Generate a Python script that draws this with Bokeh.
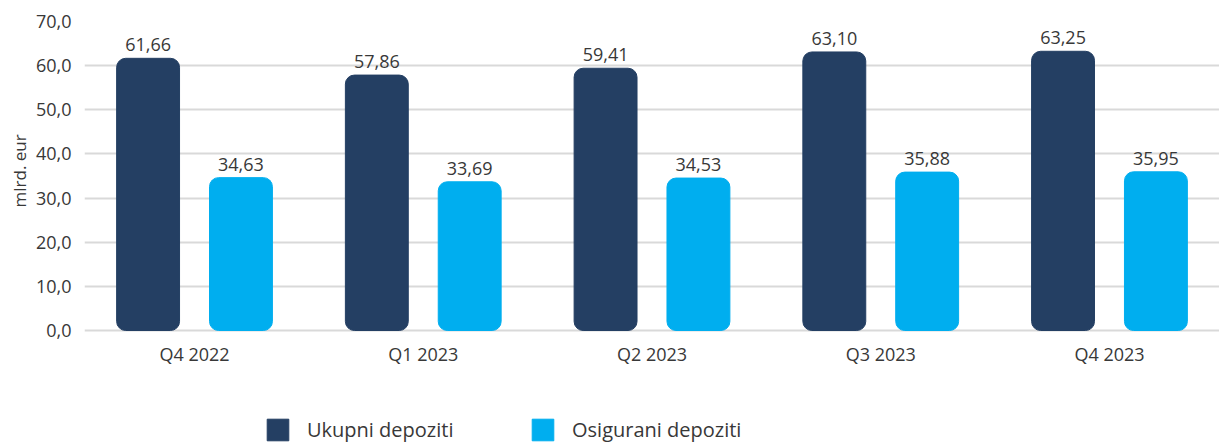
from bokeh.plotting import figure
from bokeh.models import (ColumnDataSource, FactorRange, Range1d, CustomJSTickFormatter,
                          Legend, LegendItem, LabelSet, FixedTicker, Title)
from bokeh.core.properties import value
from bokeh.transform import dodge
from bokeh.embed import file_html
from bokeh.resources import INLINE

quarters = ["Q4 2022", "Q1 2023", "Q2 2023", "Q3 2023", "Q4 2023"]
ukupni = [61.66, 57.86, 59.41, 63.10, 63.25]
osigurani = [34.63, 33.69, 34.53, 35.88, 35.95]
series_names = ["Ukupni depoziti", "Osigurani depoziti"]
y_ticks = [0, 10, 20, 30, 40, 50, 60, 70]

DARK = "#243F63"
LIGHT = "#00AEEF"
FONT = "Open Sans"
TXT = "#383838"

def fmt(v):
    return f"{v:.2f}".replace(".", ",")

src = ColumnDataSource(dict(
    q=quarters, u=ukupni, o=osigurani,
    ul=[fmt(v) for v in ukupni], ol=[fmt(v) for v in osigurani],
))

H = 445
p = figure(x_range=FactorRange(*quarters, range_padding=-0.019, range_padding_units="absolute"),
           y_range=Range1d(-(H - 330) / (309 / 70), 70),
           width=1219, height=H, output_backend="svg", toolbar_location=None,
           min_border_top=21, min_border_left=84, min_border_right=0, min_border_bottom=0)

p.outline_line_color = None
p.background_fill_color = "white"
p.border_fill_color = "white"

off = 0.203
bw = 0.275
r1 = p.vbar(x=dodge("q", -off, range=p.x_range), top="u", width=bw, source=src,
            fill_color=DARK, line_color=DARK, border_radius=9)
r2 = p.vbar(x=dodge("q", off, range=p.x_range), top="o", width=bw, source=src,
            fill_color=LIGHT, line_color=LIGHT, border_radius=9)

for col, lab, dx in (("u", "ul", -off), ("o", "ol", off)):
    ls = LabelSet(x=dodge("q", dx, range=p.x_range), y=col, text=lab, source=src,
                  text_align="center", text_baseline="bottom", y_offset=7,
                  text_font=value(FONT), text_font_size="18px", text_color=TXT)
    p.add_layout(ls)

p.yaxis.ticker = FixedTicker(ticks=y_ticks)
p.yaxis.formatter = CustomJSTickFormatter(code="return tick.toFixed(1).replace('.', ',');")
p.yaxis.axis_line_color = None
p.yaxis.major_tick_line_color = None
p.yaxis.minor_tick_line_color = None
p.yaxis.major_label_text_font = FONT
p.yaxis.major_label_text_font_size = "18px"
p.yaxis.major_label_text_color = TXT
p.yaxis.major_label_standoff = 7

ylab = Title(text="mlrd. eur", align="left", offset=H - 207, text_font=FONT,
             text_font_size="17px", text_font_style="normal", text_color=TXT, standoff=4)
p.add_layout(ylab, "left")

p.xaxis.fixed_location = 0
p.xaxis.axis_line_color = None
p.xaxis.major_tick_line_color = None
p.xaxis.minor_tick_line_color = None
p.xaxis.major_label_text_font = FONT
p.xaxis.major_label_text_font_size = "18px"
p.xaxis.major_label_text_color = TXT
p.xaxis.major_label_standoff = 5

p.xgrid.grid_line_color = None
p.ygrid.ticker = FixedTicker(ticks=y_ticks)
p.ygrid.grid_line_color = "#d9d9d9"
p.ygrid.grid_line_width = 2

for name, r, x in ((series_names[0], r1, 180), (series_names[1], r2, 445)):
    lg = Legend(items=[LegendItem(label=name, renderers=[r])], location=(x, 2),
                orientation="horizontal", border_line_color=None, background_fill_alpha=0,
                padding=0, margin=0, glyph_width=27, glyph_height=27, label_standoff=16,
                label_text_font=FONT, label_text_font_size="20px", label_text_color=TXT)
    p.add_layout(lg, "center")

open("out.html", "w").write(file_html(p, INLINE))
